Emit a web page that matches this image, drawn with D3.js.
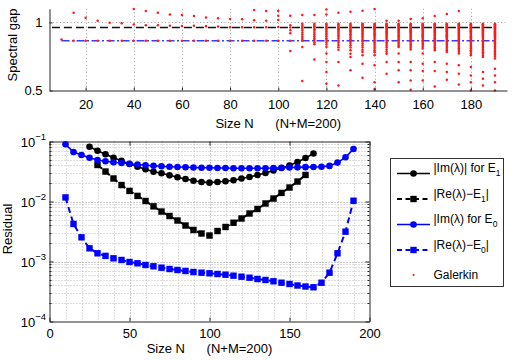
<!DOCTYPE html>
<html>
<head>
<meta charset="utf-8">
<script src="https://cdn.jsdelivr.net/npm/d3@7"></script>
<style>
  body { margin: 0; background: #fff; }
  text { font-family: "Liberation Sans", Arial, Helvetica, sans-serif; }
</style>
</head>
<body>
<svg id="chart" width="526" height="360"></svg>
<script>
// ---------- data: top panel (spectral gap of Galerkin eigenvalues) ----------
var galN = [10,15,20,25,30,35,40,45,50,55,60,65,70,75,80,85,90,95,100,
            105,110,115,120,125,130,135,140,145,150,155,160,165,170,175,180,185,190];
var galGap = [
  [0.874],
  [1.071,0.865],
  [1.034,0.865],
  [1.012,0.865],
  [0.997,0.865],
  [0.993,0.865],
  [1.098,0.985,0.865],
  [1.083,0.980,0.865],
  [1.071,0.980,0.865],
  [1.059,0.975,0.865],
  [1.054,0.973,0.865],
  [1.047,0.975,0.865],
  [1.037,0.972,0.865],
  [1.030,0.970,0.865],
  [1.025,0.965,0.865],
  [1.023,0.965,0.865],
  [1.091,1.016,0.965,0.865],
  [1.083,1.012,0.965,0.865],
  [1.083,1.049,1.017,0.967,0.865],
  [1.049,0.98,0.963,0.943,0.92,0.865,0.79],
  [1.054,0.99,0.978,0.966,0.953,0.94,0.925,0.91,0.893,0.878,0.865,0.82,0.569],
  [1.054,0.99,0.981,0.971,0.961,0.95,0.938,0.925,0.912,0.898,0.884,0.87,0.855,0.84,0.727],
  [1.095,1.058,0.99,0.982,0.974,0.965,0.956,0.946,0.935,0.923,0.911,0.898,0.884,0.87,0.855,0.838,0.82,0.771,0.709,0.635,0.55],
  [1.071,0.99,0.983,0.975,0.967,0.958,0.949,0.939,0.929,0.918,0.906,0.893,0.88,0.866,0.851,0.835,0.818,0.8,0.709,0.537],
  [1.078,0.99,0.983,0.976,0.968,0.96,0.952,0.943,0.934,0.924,0.913,0.902,0.89,0.877,0.863,0.848,0.832,0.815,0.795,0.77,0.746,0.648],
  [1.085,0.99,0.984,0.977,0.97,0.963,0.955,0.947,0.938,0.929,0.919,0.909,0.898,0.886,0.873,0.86,0.846,0.831,0.815,0.798,0.783,0.758,0.697,0.594],
  [1.098,0.99,0.984,0.978,0.971,0.964,0.957,0.949,0.941,0.932,0.923,0.913,0.903,0.892,0.88,0.868,0.855,0.841,0.827,0.812,0.796,0.78,0.758,0.685,0.561,0.51],
  [1.012,0.99,0.985,0.979,0.972,0.966,0.959,0.952,0.944,0.936,0.928,0.919,0.91,0.9,0.89,0.879,0.867,0.855,0.842,0.829,0.815,0.8,0.785,0.77,0.709,0.623],
  [1.012,0.99,0.985,0.979,0.973,0.967,0.961,0.954,0.947,0.94,0.932,0.924,0.915,0.906,0.897,0.887,0.876,0.865,0.853,0.841,0.829,0.82,0.771,0.709,0.648,0.561],
  [1.025,0.99,0.985,0.98,0.974,0.968,0.962,0.956,0.949,0.942,0.935,0.927,0.919,0.91,0.901,0.892,0.882,0.872,0.861,0.85,0.838,0.826,0.814,0.802,0.709,0.648,0.574,0.505],
  [1.03,0.99,0.985,0.98,0.975,0.969,0.963,0.957,0.951,0.944,0.937,0.93,0.922,0.914,0.906,0.897,0.888,0.878,0.868,0.857,0.846,0.834,0.822,0.808,0.771,0.697,0.643,0.574],
  [1.047,0.99,0.986,0.981,0.976,0.97,0.965,0.959,0.953,0.947,0.94,0.933,0.926,0.918,0.91,0.902,0.893,0.884,0.874,0.864,0.853,0.842,0.83,0.818,0.806,0.795,0.709,0.643,0.53],
  [1.061,0.99,0.986,0.981,0.976,0.971,0.966,0.96,0.955,0.949,0.943,0.936,0.929,0.922,0.914,0.906,0.898,0.889,0.88,0.87,0.86,0.849,0.838,0.826,0.814,0.802,0.792,0.783,0.697,0.635,0.579],
  [1.083,0.99,0.986,0.982,0.977,0.972,0.967,0.962,0.956,0.951,0.945,0.939,0.932,0.925,0.918,0.91,0.902,0.894,0.885,0.876,0.866,0.856,0.845,0.834,0.822,0.81,0.798,0.785,0.771,0.685,0.623,0.544],
  [0.99,0.986,0.982,0.978,0.973,0.968,0.963,0.958,0.953,0.947,0.941,0.935,0.929,0.922,0.915,0.907,0.899,0.891,0.882,0.873,0.863,0.853,0.842,0.831,0.82,0.808,0.796,0.784,0.771,0.758,0.672,0.611,0.561,0.5],
  [0.99,0.986,0.982,0.978,0.974,0.969,0.964,0.959,0.954,0.949,0.943,0.937,0.931,0.925,0.918,0.911,0.903,0.895,0.887,0.878,0.869,0.859,0.849,0.838,0.827,0.816,0.805,0.793,0.781,0.769,0.757,0.746,0.635,0.586,0.537],
  [0.99,0.986,0.982,0.978,0.974,0.97,0.965,0.96,0.955,0.95,0.945,0.939,0.933,0.927,0.92,0.913,0.906,0.898,0.89,0.882,0.873,0.864,0.854,0.844,0.834,0.823,0.812,0.8,0.788,0.776,0.763,0.75,0.735,0.66,0.611,0.561,0.5]
];
// exact gaps (reference lines)
var e1LineN = [6, 190],  e1LineGap = [0.963, 0.963];
var e0LineN = [10, 190], e0LineGap = [0.865, 0.865];
var topXTicks = [20,40,60,80,100,120,140,160,180];
var topYTicks = [0.5, 1];

// ---------- data: bottom panel (residuals) ----------
var nIm1 = [25,30,35,40,45,50,55,60,65,70,75,80,85,90,95,100,105,110,115,120,125,130,135,140,145,150,155,160,165];
var im1  = [0.0819,0.0703,0.0612,0.0537,0.0479,0.0422,0.0380,0.0344,0.0314,0.0295,0.0273,0.0253,0.0237,0.0222,0.0211,
            0.0206,0.0211,0.0217,0.0226,0.0242,0.0256,0.0276,0.0299,0.0329,0.0362,0.0398,0.0455,0.0531,0.0631];
var nRe1 = [30,35,40,45,50,55,60,65,70,75,80,85,90,95,100,105,110,115,120,125,130,135,140,145,150,155,160];
var re1  = [0.0406,0.0316,0.0242,0.0188,0.0150,0.0124,0.0102,0.0083,0.0068,0.00573,0.00482,0.00398,0.00335,0.00293,
            0.00271,0.00322,0.00376,0.00443,0.00521,0.00631,0.0075,0.00927,0.0112,0.0139,0.0171,0.0215,0.0277];
var nE0 = [10,15,20,25,30,35,40,45,50,55,60,65,70,75,80,85,90,95,100,105,110,115,120,125,130,135,140,145,150,155,160,165,170,175,180,185,190];
var im0 = [0.0898,0.0668,0.0596,0.0537,0.0492,0.0468,0.0450,0.0438,0.0425,0.0414,0.0403,0.0394,0.0386,0.0380,0.0376,0.0372,
           0.0369,0.0366,0.0365,0.0362,0.0361,0.0359,0.0358,0.0358,0.0358,0.0359,0.0362,0.0365,0.0368,0.0371,0.0374,0.0376,
           0.0379,0.0392,0.0445,0.0545,0.075];
var re0 = [0.0117,0.00422,0.00253,0.00166,0.00137,0.00124,0.00113,0.00106,0.000981,0.000933,0.000875,0.000832,0.000788,
           0.00075,0.000722,0.000695,0.000668,0.000651,0.000636,0.000619,0.000603,0.00058,0.000558,0.000537,0.000511,
           0.000492,0.000468,0.000443,0.000422,0.000398,0.000383,0.000372,0.000443,0.000651,0.00137,0.00314,0.0103];
var botXTicks = [0,50,100,150,200];
var botYTicks = [1e-4,1e-3,1e-2,1e-1];
var botYExp = ["−4","−3","−2","−1"];

var legendMain = ["|Im(λ)| for E", "|Re(λ)−E", "|Im(λ) for E", "|Re(λ)−E", "Galerkin"];
var legendSub  = ["1", "1", "0", "0", ""];
var legendTail = ["", "|", "", "|", ""];

// ---------- drawing ----------
var svg = d3.select("#chart");
svg.append("rect").attr("width", 526).attr("height", 360).attr("fill", "#fff");

var gridCol = "#a0a0a0", axisCol = "#262626";

// ===== top panel =====
var x1 = d3.scaleLinear().domain([5, 195]).range([49.5, 507]);
var y1 = d3.scaleLinear().domain([0.5, 1.1]).range([90.5, 8.8]);
var topG = svg.append("g");

// dotted grid
topG.selectAll(".vgrid").data(topXTicks).enter().append("line")
  .attr("x1", function(d) { return Math.round(x1(d)) + 0.5; })
  .attr("x2", function(d) { return Math.round(x1(d)) + 0.5; })
  .attr("y1", y1(1.1)).attr("y2", y1(0.5))
  .attr("stroke", gridCol).attr("stroke-dasharray", "1,2.5");
topG.append("line")
  .attr("x1", x1(5)).attr("x2", x1(195))
  .attr("y1", Math.round(y1(1)) + 0.5).attr("y2", Math.round(y1(1)) + 0.5)
  .attr("stroke", gridCol).attr("stroke-dasharray", "1,2.5");

// reference lines
topG.append("line")
  .attr("x1", x1(e1LineN[0])).attr("x2", x1(e1LineN[1]))
  .attr("y1", y1(e1LineGap[0])).attr("y2", y1(e1LineGap[1]))
  .attr("stroke", "#111").attr("stroke-width", 1.6).attr("stroke-dasharray", "8,4");
topG.append("line")
  .attr("x1", x1(e0LineN[0])).attr("x2", x1(e0LineN[1]))
  .attr("y1", y1(e0LineGap[0])).attr("y2", y1(e0LineGap[1]))
  .attr("stroke", "#3a3aff").attr("stroke-width", 1.6).attr("stroke-dasharray", "8,2.5,2,2.5");

// Galerkin dots
var dots = [];
galN.forEach(function(n, i) {
  galGap[i].forEach(function(g) { dots.push({n: n, g: g}); });
});
topG.selectAll(".gal").data(dots).enter().append("circle")
  .attr("class", "gal")
  .attr("cx", function(d) { return x1(d.n); })
  .attr("cy", function(d) { return y1(d.g); })
  .attr("r", 1.25)
  .attr("fill", "#ff1a1a");

var xAxis1 = d3.axisBottom(x1).tickValues(topXTicks).tickSize(-3).tickSizeOuter(0).tickPadding(9);
var xAxisG1 = topG.append("g").attr("transform", "translate(0," + 90.5 + ")").call(xAxis1);
var yAxis1 = d3.axisLeft(y1).tickValues(topYTicks).tickFormat(d3.format("")).tickSize(-3).tickSizeOuter(0).tickPadding(7);
var yAxisG1 = topG.append("g").attr("transform", "translate(" + 49.5 + ",0)").call(yAxis1);
[xAxisG1, yAxisG1].forEach(function(g) {
  g.selectAll("path, line").attr("stroke", axisCol);
  g.selectAll("text").style("font-size", "13px").attr("fill", "#000");
});

topG.append("text")
  .attr("x", (x1(5) + x1(195)) / 2).attr("y", 127.5)
  .attr("text-anchor", "middle").style("font-size", "13px").attr("xml:space", "preserve")
  .text("Size N      (N+M=200)");
topG.append("text")
  .attr("transform", "translate(17,45) rotate(-90)")
  .attr("text-anchor", "middle").style("font-size", "13px")
  .text("Spectral gap");

// ===== bottom panel =====
var x2 = d3.scaleLinear().domain([0, 200]).range([49.5, 369.5]);
var y2 = d3.scaleLog().domain([1e-4, 1e-1]).range([321.5, 141.5]);
var botG = svg.append("g");

// minor + major dotted grid
var minorX = [], minorY = [];
for (var v = 10; v < 200; v += 10) minorX.push(v);
[1e-4, 1e-3, 1e-2].forEach(function(dec) {
  for (var m = 2; m <= 9; m++) minorY.push(dec * m);
});
botG.selectAll(".mgx").data(minorX).enter().append("line")
  .attr("x1", function(d) { return Math.round(x2(d)) + 0.5; })
  .attr("x2", function(d) { return Math.round(x2(d)) + 0.5; })
  .attr("y1", y2(1e-1)).attr("y2", y2(1e-4))
  .attr("stroke", function(d) { return d % 50 === 0 ? "#999" : "#bdbdbd"; })
  .attr("stroke-dasharray", "1,2");
botG.selectAll(".mgy").data(minorY.concat([1e-3, 1e-2])).enter().append("line")
  .attr("x1", x2(0)).attr("x2", x2(200))
  .attr("y1", function(d) { return Math.round(y2(d)) + 0.5; })
  .attr("y2", function(d) { return Math.round(y2(d)) + 0.5; })
  .attr("stroke", function(d) { return minorY.indexOf(d) >= 0 ? "#bdbdbd" : "#999"; })
  .attr("stroke-dasharray", "1,2");

// axes box with inward ticks
var xAxis2 = d3.axisBottom(x2).tickValues(botXTicks).tickSize(-4).tickSizeOuter(0).tickPadding(7);
var xAxisG2 = botG.append("g").attr("transform", "translate(0,321.5)").call(xAxis2);
var xAxisT2 = botG.append("g").attr("transform", "translate(0,141.5)")
  .call(d3.axisTop(x2).tickValues(botXTicks).tickSize(-4).tickSizeOuter(0).tickFormat(""));
var yAxisG2 = botG.append("g").attr("transform", "translate(49.5,0)")
  .call(d3.axisLeft(y2).tickValues(botYTicks).tickSize(-4).tickSizeOuter(0).tickFormat(""));
var yAxisR2 = botG.append("g").attr("transform", "translate(369.5,0)")
  .call(d3.axisRight(y2).tickValues(botYTicks).tickSize(-4).tickSizeOuter(0).tickFormat(""));
[xAxisG2, xAxisT2, yAxisG2, yAxisR2].forEach(function(g) {
  g.selectAll("path, line").attr("stroke", axisCol);
  g.selectAll("text").style("font-size", "13px").attr("fill", "#000");
});
// minor log ticks
botG.selectAll(".mtl").data(minorY).enter().append("line")
  .attr("x1", 49.5).attr("x2", 51.5)
  .attr("y1", function(d) { return Math.round(y2(d)) + 0.5; })
  .attr("y2", function(d) { return Math.round(y2(d)) + 0.5; })
  .attr("stroke", axisCol);
botG.selectAll(".mtr").data(minorY).enter().append("line")
  .attr("x1", 367.5).attr("x2", 369.5)
  .attr("y1", function(d) { return Math.round(y2(d)) + 0.5; })
  .attr("y2", function(d) { return Math.round(y2(d)) + 0.5; })
  .attr("stroke", axisCol);

// y tick labels 10^k
botYTicks.forEach(function(t, i) {
  var tx = botG.append("text")
    .attr("x", 46).attr("y", y2(t) + 5)
    .attr("text-anchor", "end").style("font-size", "13px");
  tx.append("tspan").text("10");
  tx.append("tspan").attr("dy", -7).style("font-size", "9.5px").text(botYExp[i]);
});

botG.append("text")
  .attr("x", (x2(0) + x2(200)) / 2).attr("y", 353)
  .attr("text-anchor", "middle").style("font-size", "13px").attr("xml:space", "preserve")
  .text("Size N      (N+M=200)");
botG.append("text")
  .attr("transform", "translate(12,229) rotate(-90)")
  .attr("text-anchor", "middle").style("font-size", "13px")
  .text("Residual");

// series
var series = [
  {n: nIm1, v: im1, color: "#000", dash: null, marker: "circle"},
  {n: nRe1, v: re1, color: "#000", dash: "6,4", marker: "square"},
  {n: nE0,  v: im0, color: "#0000ff", dash: null, marker: "circle"},
  {n: nE0,  v: re0, color: "#0000ff", dash: "6,4", marker: "square"}
];

function drawMarker(g, kind, cx, cy, color) {
  if (kind === "circle") {
    g.append("circle").attr("cx", cx).attr("cy", cy).attr("r", 3.3).attr("fill", color);
  } else if (kind === "square") {
    g.append("rect").attr("x", cx - 3.2).attr("y", cy - 3.2).attr("width", 6.4).attr("height", 6.4).attr("fill", color);
  }
}

var line2 = d3.line().x(function(d) { return x2(d[0]); }).y(function(d) { return y2(d[1]); });
series.forEach(function(s) {
  var pts = s.n.map(function(n, i) { return [n, s.v[i]]; });
  botG.append("path").datum(pts)
    .attr("d", line2)
    .attr("fill", "none")
    .attr("stroke", s.color)
    .attr("stroke-width", s.dash ? 2 : 1.6)
    .attr("stroke-dasharray", s.dash);
  pts.forEach(function(p) { drawMarker(botG, s.marker, x2(p[0]), y2(p[1]), s.color); });
});

// legend
var leg = svg.append("g");
leg.append("rect")
  .attr("x", 390.5).attr("y", 158.5).attr("width", 113).attr("height", 128)
  .attr("fill", "#fff").attr("stroke", "#333");
var legRows = [173.5, 199, 224.5, 250, 275];
var legItems = series.concat([{color: "#ff1a1a", dash: null, marker: "dot", noLine: true}]);
legItems.forEach(function(s, i) {
  var yy = legRows[i];
  if (!s.noLine) {
    leg.append("line").attr("x1", 397).attr("x2", 430).attr("y1", yy).attr("y2", yy)
      .attr("stroke", s.color).attr("stroke-width", s.dash ? 2 : 1.6)
      .attr("stroke-dasharray", s.dash ? "5,3.5" : null);
    drawMarker(leg, s.marker, 413.5, yy, s.color);
  } else {
    leg.append("circle").attr("cx", 413.5).attr("cy", yy).attr("r", 1.1).attr("fill", s.color);
  }
  var t = leg.append("text").attr("x", 433.5).style("font-size", "12px");
  if (legendSub[i]) {
    t.attr("y", yy - 1.5);
    t.append("tspan").text(legendMain[i]);
    t.append("tspan").attr("dy", 4).style("font-size", "8.5px").text(legendSub[i]);
    if (legendTail[i]) t.append("tspan").attr("dy", -4).text(legendTail[i]);
  } else {
    t.attr("y", yy + 4.3).text(legendMain[i]);
  }
});
</script>
</body>
</html>
